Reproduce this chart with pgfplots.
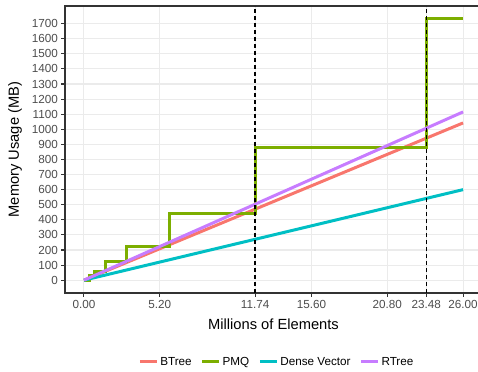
\documentclass[border=0pt]{standalone}
\usepackage{fontspec}
\setmainfont{Liberation Sans}
\usepackage{pgfplots}
\pgfplotsset{compat=1.18}
\definecolor{cBT}{HTML}{F8766D}
\definecolor{cPMQ}{HTML}{7CAE00}
\definecolor{cDV}{HTML}{00BFC4}
\definecolor{cRT}{HTML}{C77CFF}
\definecolor{grid}{HTML}{EBEBEB}
\definecolor{g20}{HTML}{333333}
\definecolor{g30}{HTML}{4D4D4D}
\begin{document}
\begin{tikzpicture}
\useasboundingbox (-65bp,-79bp) rectangle (413bp,293bp);
\clip (-65bp,-79bp) rectangle (413bp,293bp);
\begin{axis}[
  at={(0,0)}, anchor=south west,
  scale only axis, width=417bp, height=287bp,
  xmin=-1.3, xmax=27.3, ymin=-85, ymax=1817,
  xtick={0,5.2,11.74,15.6,20.8,23.48,26},
  xticklabels={0.00,5.20,11.74,15.60,20.80,23.48,26.00},
  ytick={0,100,...,1700},
  /pgf/number format/assume math mode=true,
  /pgf/number format/1000 sep={},
  yticklabel style={/pgf/number format/fixed},
  tick label style={font=\fontsize{11.7bp}{13bp}\selectfont, text=g30},
  tick align=outside, major tick length=3.7bp,
  tick style={draw=g20, line width=1.07bp},
  xtick pos=bottom, ytick pos=left,
  axis line style={draw=g20, line width=1.07bp},
  grid=major, major grid style={draw=grid, line width=1.07bp},
  xlabel={Millions of Elements}, ylabel={Memory Usage (MB)},
  label style={font=\fontsize{14.7bp}{16bp}\selectfont},
  xlabel style={at={(axis description cs:0.5,0)}, anchor=center, yshift=-31bp},
  every axis y label/.append style={at={(axis description cs:0,0.5)}, anchor=center, yshift=50bp},
  legend style={at={(0.508,-0.2404)}, anchor=center, draw=none, fill=none,
    legend columns=4, font=\fontsize{11.7bp}{13bp}\selectfont,
    /tikz/every even column/.append style={column sep=7bp}},
  legend image code/.code={\draw[#1, line width=3bp] (0bp,0bp) -- (17bp,0bp);},
  clip=true,
]
\addplot[cBT, line width=3bp] coordinates {(0,0) (26,1042)};
\addlegendentry{BTree}
\addplot[cPMQ, line width=3bp, const plot] coordinates {
 (0,0) (0.367,30) (0.734,60) (1.4675,122) (2.935,225) (5.87,445) (11.74,876) (23.48,1731) (26,1731)};
\addlegendentry{PMQ}
\addplot[cDV, line width=3bp] coordinates {(0,0) (26,600)};
\addlegendentry{Dense Vector}
\addplot[cRT, line width=3bp] coordinates {(0,0) (26,1115)};
\addlegendentry{RTree}
\addplot[black, line width=1.4bp, dash pattern=on 4bp off 3bp, forget plot] coordinates {(11.74,-85) (11.74,1817)};
\addplot[black, line width=1.4bp, dash pattern=on 4bp off 3bp, forget plot] coordinates {(23.48,-85) (23.48,1817)};
\end{axis}
\end{tikzpicture}
\end{document}
